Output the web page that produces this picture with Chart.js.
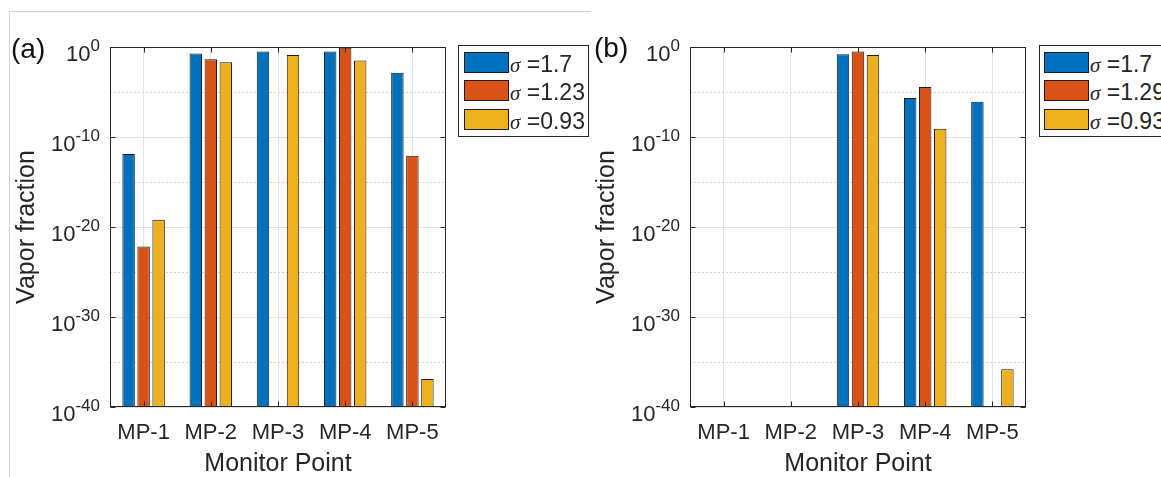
<!DOCTYPE html>
<html>
<head>
<meta charset="utf-8">
<script src="https://cdn.jsdelivr.net/npm/chart.js@4.4.0/dist/chart.umd.min.js"></script>
<style>
  html, body { margin: 0; padding: 0; background: #fff; }
  body { width: 1161px; height: 477px; overflow: hidden; position: relative;
         font-family: "Liberation Sans", Arial, sans-serif; color: #262626; }
  .frame { position: absolute; left: 9px; top: 11px; width: 581px; height: 480px;
           border-top: 1px solid #d2d2d2; border-left: 1px solid #d2d2d2; }
  .cv { position: absolute; top: 0; width: 456px; height: 477px; }
  .tag { position: absolute; font-size: 28px; line-height: 28px; color: #111; }
  .legend { position: absolute; top: 45px; height: 90px; border: 1px solid #262626; background: #fff; }
  .sw { position: absolute; width: 45px; height: 21px; border: 1px solid #1c1c1c; box-sizing: border-box; }
  .lt { position: absolute; font-size: 23px; line-height: 22px; white-space: nowrap; color: #262626; }
  .lt i { font-family: "Liberation Serif", "Times New Roman", serif; font-size: 21px; }
</style>
</head>
<body>
<div class="frame"></div>
<div class="cv" style="left:0"><canvas id="chartA"></canvas></div>
<div class="cv" style="left:580px"><canvas id="chartB"></canvas></div>
<div class="tag" style="left:11px;top:35px">(a)</div>
<div class="tag" style="left:594px;top:34px">(b)</div>
<div class="legend" id="legA" style="left:458px;width:129px"></div>
<div class="legend" id="legB" style="left:1039px;width:140px"></div>
<script>
// ---------- data ----------
const categories = ['MP-1', 'MP-2', 'MP-3', 'MP-4', 'MP-5'];
const labelsA = ['=1.7', '=1.23', '=0.93'];
const labelsB = ['=1.7', '=1.29', '=0.93'];
// panel (a)
const a_sigma17  = [1.3e-12, 0.19, 0.32, 0.32, 1.4e-3];
const a_sigma123 = [7e-23, 0.044, null, 0.8, 8e-13];
const a_sigma093 = [6.3e-20, 0.02, 0.13, 0.032, 1.3e-37];
// panel (b)
const b_sigma17  = [null, null, 0.16, 2.2e-6, 8e-7];
const b_sigma129 = [null, null, 0.32, 3.7e-5, null];
const b_sigma093 = [null, null, 0.13, 8e-10, 1.6e-36];
// axis ticks (exponents of ten)
const yTickExps  = [0, -10, -20, -30, -40];
const yMinorExps = [-5, -15, -25, -35];
const yMin = 1e-40, yMax = 1;

const colors = ['#0072BD', '#D95319', '#EDB120'];
const TXT = '#262626';
const FONT = '"Liberation Sans", Arial, sans-serif';

const decor = {
  id: 'decor',
  beforeDatasetsDraw(chart) {
    const { ctx, chartArea: a, scales: { y } } = chart;
    ctx.save();
    ctx.strokeStyle = '#d4d4d4';
    ctx.lineWidth = 1;
    ctx.setLineDash([2, 2]);
    yMinorExps.forEach(e => {
      const py = Math.round(y.getPixelForValue(Math.pow(10, e))) + 0.5;
      ctx.beginPath(); ctx.moveTo(a.left, py); ctx.lineTo(a.right, py); ctx.stroke();
    });
    ctx.restore();
  },
  afterDatasetsDraw(chart) {
    const { ctx, chartArea: a, scales: { x, y } } = chart;
    ctx.save();
    ctx.strokeStyle = TXT;
    ctx.lineWidth = 1;
    const L = Math.round(a.left) + 0.5, R = Math.round(a.right) - 0.5;
    const T = Math.round(a.top) + 0.5, B = Math.round(a.bottom) - 0.5;
    ctx.strokeRect(L, T, R - L, B - T);
    const tl = 5;
    ctx.beginPath();
    yTickExps.forEach(e => {
      const py = Math.round(y.getPixelForValue(Math.pow(10, e))) + 0.5;
      ctx.moveTo(L, py); ctx.lineTo(L + tl, py);
      ctx.moveTo(R, py); ctx.lineTo(R - tl, py);
    });
    categories.forEach((c, i) => {
      const px = Math.round(x.getPixelForValue(i)) + 0.5;
      ctx.moveTo(px, B); ctx.lineTo(px, B - tl);
      ctx.moveTo(px, T); ctx.lineTo(px, T + tl);
    });
    ctx.stroke();
    // y tick labels 10^n
    ctx.fillStyle = TXT;
    ctx.textBaseline = 'alphabetic';
    ctx.textAlign = 'left';
    const right = a.left - 10;
    yTickExps.forEach(e => {
      const py = y.getPixelForValue(Math.pow(10, e));
      const expStr = String(e);
      ctx.font = '17px ' + FONT;
      const w2 = ctx.measureText(expStr).width;
      ctx.font = '22px ' + FONT;
      const w1 = ctx.measureText('10').width;
      ctx.fillText('10', right - w2 - w1, py + 14);
      ctx.font = '17px ' + FONT;
      ctx.fillText(expStr, right - w2, py + 3.5);
    });
    ctx.restore();
  }
};

function makeChart(id, series, labels) {
  return new Chart(document.getElementById(id), {
    type: 'bar',
    data: {
      labels: categories,
      datasets: series.map((s, i) => ({
        label: 'σ ' + labels[i],
        data: s,
        backgroundColor: colors[i],
        borderColor: '#1a1a1a',
        borderWidth: 1,
        borderSkipped: false,
        categoryPercentage: 0.67,
        barPercentage: 0.83
      }))
    },
    options: {
      responsive: true,
      maintainAspectRatio: false,
      animation: false,
      devicePixelRatio: 1,
      layout: { padding: { top: 47, right: 10, left: 0, bottom: 0 } },
      plugins: { legend: { display: false }, tooltip: { enabled: false } },
      scales: {
        x: {
          grid: { offset: false, color: '#e2e2e2', drawTicks: false },
          border: { display: false },
          ticks: { color: TXT, font: { family: FONT, size: 22 }, padding: 13 },
          title: { display: true, text: 'Monitor Point', color: TXT,
                   font: { family: FONT, size: 25, lineHeight: 1 }, padding: { top: 0, bottom: 0 } },
          afterFit(scale) { scale.height = 70; }
        },
        y: {
          type: 'logarithmic',
          min: yMin, max: yMax,
          grid: { color: '#e2e2e2', drawTicks: false },
          border: { display: false },
          ticks: { display: false },
          afterBuildTicks(scale) { scale.ticks = yTickExps.map(e => ({ value: Math.pow(10, e) })); },
          title: { display: true, text: 'Vapor fraction', color: TXT,
                   font: { family: FONT, size: 25, lineHeight: 1 }, padding: { top: 14.5, bottom: 0 } },
          afterFit(scale) { scale.width = 110; }
        }
      }
    },
    plugins: [decor]
  });
}

function makeLegend(id, labels, swLeft, txtLeft) {
  const el = document.getElementById(id);
  const tops = [6, 34, 63];
  labels.forEach((lab, i) => {
    const sw = document.createElement('div');
    sw.className = 'sw';
    sw.style.left = swLeft + 'px';
    sw.style.top = tops[i] + 'px';
    sw.style.background = colors[i];
    el.appendChild(sw);
    const t = document.createElement('div');
    t.className = 'lt';
    t.style.left = txtLeft + 'px';
    t.style.top = (tops[i] + 1) + 'px';
    t.innerHTML = '<i>σ</i> ' + lab;
    el.appendChild(t);
  });
}

makeChart('chartA', [a_sigma17, a_sigma123, a_sigma093], labelsA);
makeChart('chartB', [b_sigma17, b_sigma129, b_sigma093], labelsB);
makeLegend('legA', labelsA, 5, 51);
makeLegend('legB', labelsB, 4, 50);
</script>
</body>
</html>
